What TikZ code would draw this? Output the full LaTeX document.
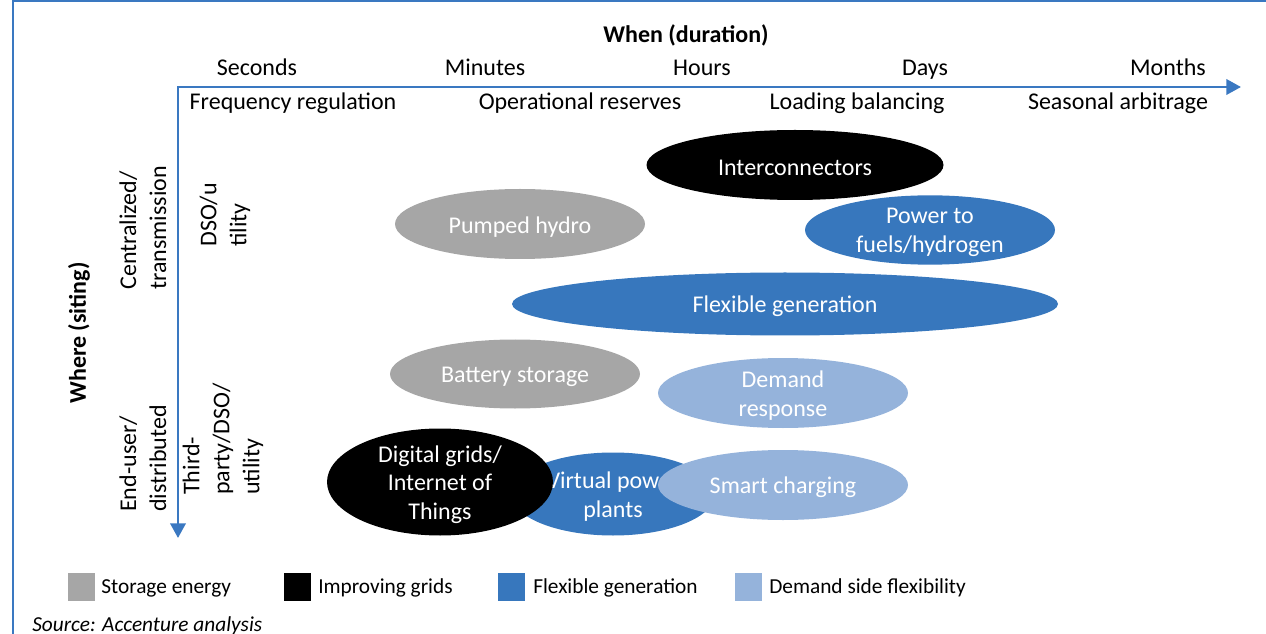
\documentclass[tikz,border=0pt]{standalone}
\usepackage{fontspec}
\setmainfont{Carlito}
\usetikzlibrary{shapes.geometric,arrows.meta}
\definecolor{axisblue}{RGB}{58,120,193}
\definecolor{cblue}{RGB}{55,119,189}
\definecolor{clight}{RGB}{149,179,219}
\definecolor{cgray}{RGB}{166,166,166}
\tikzset{
  blob/.style={ellipse, inner sep=0pt},
  blobtext/.style={inner sep=0pt, text=white, align=center, yshift=-2pt, font=\fontsize{18}{21.5}\selectfont},
  lbl/.style={inner sep=0pt, anchor=base, font=\fontsize{18}{21.5}\selectfont},
  vlbl/.style={inner sep=0pt, rotate=90, align=left, anchor=west, font=\fontsize{18}{22.5}\selectfont},
  legbox/.style={minimum width=20.25pt, minimum height=21pt, inner sep=0pt, anchor=west},
  legtxt/.style={anchor=base west, inner sep=0pt, font=\fontsize{16}{19}\selectfont},
  axisline/.style={draw=axisblue, line width=2pt, {Triangle[length=11pt,width=11.5pt]}-{Triangle[length=11pt,width=11.5pt]}}
}
\begin{document}
\begin{tikzpicture}[x=0.75pt,y=-0.75pt]
\useasboundingbox (0,0) rectangle (1266,634);
% frame
\coordinate (fb) at (12.5,634);
\coordinate (fc) at (12.5,1.5);
\coordinate (fr) at (1266,1.5);
\draw[axisblue, line width=1.5pt] (fb) -- (fc) -- (fr);
% axes
\coordinate (O) at (178,87);
\coordinate (xend) at (1241,87);
\coordinate (yend) at (178,538);
\draw[axisline] (yend) -- (O) -- (xend);
% titles
\node[lbl, font=\bfseries\fontsize{18}{21.5}\selectfont] (when) at (686,43) {When (duration)};
\node[lbl] (sec) at (257,75.5) {Seconds};
\node[lbl] (min) at (485,75.5) {Minutes};
\node[lbl] (hrs) at (702,75.5) {Hours};
\node[lbl] (days) at (925,75.5) {Days};
\node[lbl] (mon) at (1168,75.5) {Months};
\node[lbl] (freq) at (293,109.5) {Frequency regulation};
\node[lbl] (oper) at (580,109.5) {Operational reserves};
\node[lbl] (load) at (857,109.5) {Loading balancing};
\node[lbl] (seas) at (1118,109.5) {Seasonal arbitrage};
% vertical labels
\node[inner sep=0pt, rotate=90, font=\bfseries\fontsize{18}{21.5}\selectfont] (where) at (79,333) {Where (siting)};
\node[vlbl] (cent) at (143,290) {Centralized/\\transmission};
\node[vlbl] (dso) at (225,247) {DSO/u\\tility};
\node[vlbl] (endu) at (143,512) {End-user/\\distributed};
\node[vlbl] (third) at (223,495) {Third-\\party/DSO/\\utility};
% ellipses
\node[blob, fill=black, minimum width=222.75pt, minimum height=52.5pt,
  label={[blobtext]center:Interconnectors}] (inter) at (795,165) {};
\node[blob, fill=cgray, minimum width=187.5pt, minimum height=52.5pt,
  label={[blobtext]center:Pumped hydro}] (pump) at (520,224) {};
\node[blob, fill=cblue, minimum width=187.5pt, minimum height=52pt,
  label={[blobtext]center:{Power to\\fuels/hydrogen}}] (p2f) at (930,230) {};
\node[blob, fill=cblue, minimum width=409.5pt, minimum height=47.25pt,
  label={[blobtext]center:Flexible generation}] (flex) at (785,304) {};
\node[blob, fill=cgray, minimum width=187.5pt, minimum height=51.75pt,
  label={[blobtext]center:Battery storage}] (batt) at (515,374) {};
\node[blob, fill=clight, minimum width=187.5pt, minimum height=52.5pt,
  label={[blobtext]center:{Demand\\response}}] (dr) at (783,393) {};
\node[blob, fill=cblue, minimum width=153pt, minimum height=62.25pt,
  label={[blobtext]center:{Virtual power\\plants}}] (vpp) at (613,494) {};
\node[blob, fill=black, minimum width=169.5pt, minimum height=80.25pt,
  label={[blobtext]center:{Digital grids/\\Internet of\\Things}}] (dig) at (440,482) {};
\node[blob, fill=clight, minimum width=187.5pt, minimum height=52.5pt,
  label={[blobtext]center:Smart charging}] (smart) at (783,485) {};
% legend
\node[legbox, fill=cgray] (lg1) at (68,587) {};
\node[legtxt] (lt1) at (101,593) {Storage energy};
\node[legbox, fill=black] (lg2) at (284,587) {};
\node[legtxt] (lt2) at (318,593) {Improving grids};
\node[legbox, fill=cblue] (lg3) at (498,587) {};
\node[legtxt] (lt3) at (533,593) {Flexible generation};
\node[legbox, fill=clight] (lg4) at (735,587) {};
\node[legtxt] (lt4) at (769,593) {Demand side flexibility};
\node[legtxt, font=\itshape\fontsize{16}{19}\selectfont] (src) at (32,631) {Source: Accenture analysis};
\end{tikzpicture}
\end{document}
